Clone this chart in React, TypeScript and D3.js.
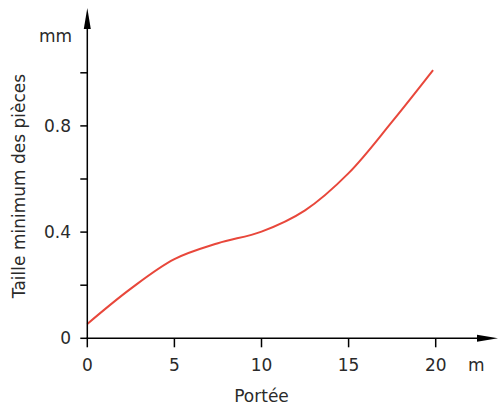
import React from "react";
import * as d3 from "d3";

const spanX = [0, 2.5, 5, 7.5, 10, 12.5, 15, 17.5, 19.85];
const sizeY = [0.054, 0.187, 0.298, 0.358, 0.402, 0.482, 0.622, 0.816, 1.01];
const xTicks = [0, 5, 10, 15, 20];
const yTicks = [0, 0.2, 0.4, 0.6, 0.8, 1.0];
const yLabelled = [0, 0.4, 0.8];

const W = 498;
const H = 407;
const FONT = "DejaVu Sans, sans-serif";

export default function App() {
  const x = d3.scaleLinear().domain([0, 20]).range([87.3, 435.7]);
  const y = d3.scaleLinear().domain([0, 1]).range([338.3, 72.8]);
  const pts: [number, number][] = spanX.map((v, i) => [v, sizeY[i]]);
  const line = d3
    .line<[number, number]>()
    .x((d) => x(d[0]))
    .y((d) => y(d[1]))
    .curve(d3.curveCatmullRom.alpha(0.5));

  const x0 = x(0);
  const y0 = y(0);

  return (
    <svg
      width={W}
      height={H}
      style={{ position: "absolute", left: 0, top: 0, background: "#fff" }}
    >
      {/* curve */}
      <path d={line(pts) || ""} fill="none" stroke="#e8473b" strokeWidth={2} />

      {/* axes */}
      <line x1={x0} y1={y0} x2={x0} y2={24} stroke="#000" strokeWidth={1.5} />
      <line x1={x0 - 0.75} y1={y0} x2={482} y2={y0} stroke="#000" strokeWidth={1.5} />
      <polygon points={`${x0},8 ${x0 - 3.5},29 ${x0 + 3.5},29`} fill="#000" />
      <polygon points={`498,${y0} 477,${y0 - 3.5} 477,${y0 + 3.5}`} fill="#000" />

      {/* y ticks */}
      {yTicks.map((t) => (
        <line key={"yt" + t} x1={x0 - 7} x2={x0} y1={y(t)} y2={y(t)} stroke="#000" strokeWidth={1.5} />
      ))}
      {yLabelled.map((t) => (
        <text
          key={"yl" + t}
          x={71}
          y={y(t)}
          textAnchor="end"
          dominantBaseline="central"
          fontFamily={FONT}
          fontSize={17}
          fill="#2a2a2a"
        >
          {t === 0 ? "0" : t.toFixed(1)}
        </text>
      ))}

      {/* x ticks */}
      {xTicks.map((t) => (
        <g key={"xt" + t}>
          <line x1={x(t)} x2={x(t)} y1={y0} y2={y0 + 9} stroke="#000" strokeWidth={1.5} />
          <text
            x={x(t)}
            y={370.7}
            textAnchor="middle"
            fontFamily={FONT}
            fontSize={17}
            fill="#2a2a2a"
          >
            {t}
          </text>
        </g>
      ))}

      {/* units */}
      <text x={72} y={41.7} textAnchor="end" fontFamily={FONT} fontSize={17} fill="#2a2a2a">
        mm
      </text>
      <text x={468} y={370.7} fontFamily={FONT} fontSize={17} fill="#2a2a2a">
        m
      </text>

      {/* axis titles */}
      <text x={x(10)} y={402} textAnchor="middle" fontFamily={FONT} fontSize={17} fill="#2a2a2a">
        Portée
      </text>
      <text
        transform={`translate(25,186) rotate(-90)`}
        textAnchor="middle"
        fontFamily={FONT}
        fontSize={17}
        fill="#2a2a2a"
      >
        Taille minimum des pièces
      </text>
    </svg>
  );
}
